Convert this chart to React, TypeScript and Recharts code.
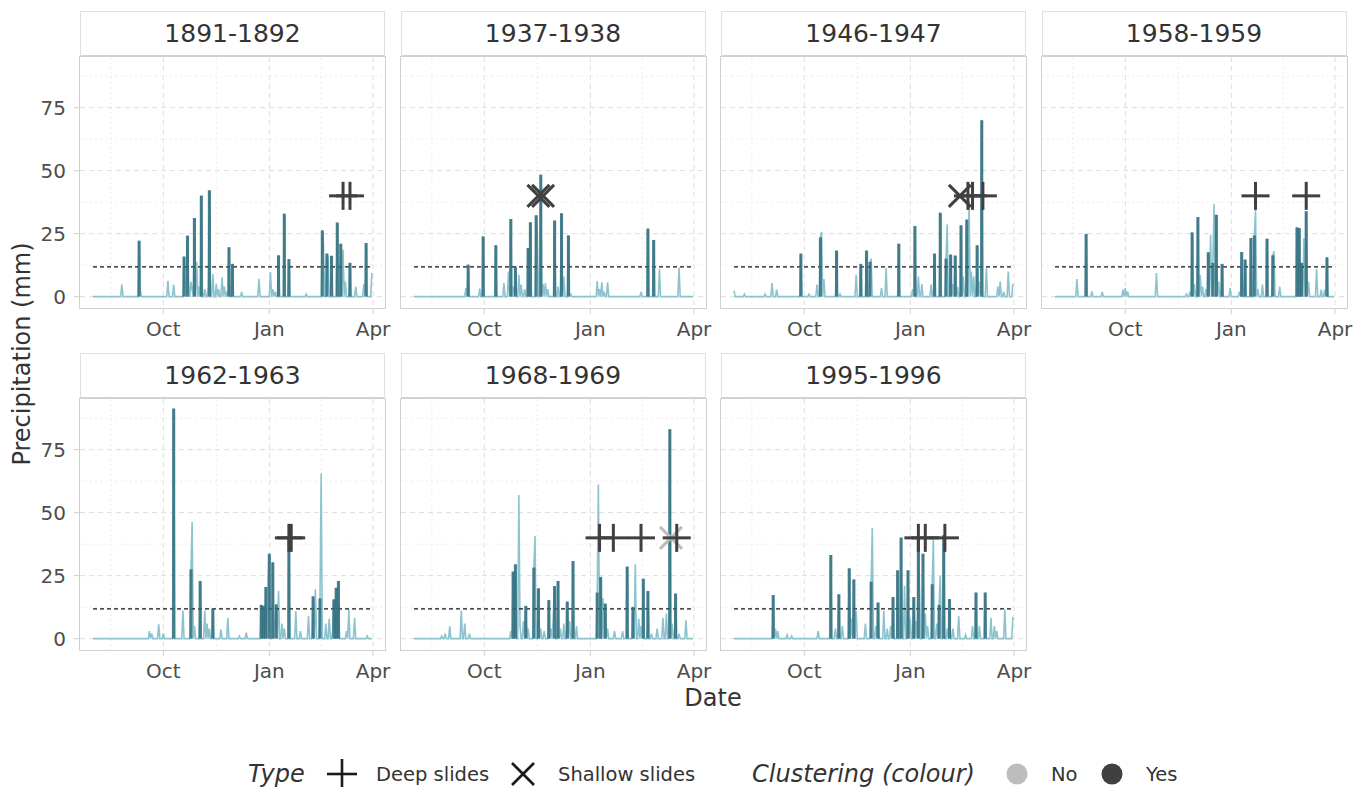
import React from 'react';
import { ComposedChart, Line, Bar, Scatter, XAxis, YAxis, CartesianGrid, ReferenceLine } from 'recharts';

const FONT = '"DejaVu Sans", Verdana, sans-serif';

// ---- axis settings (days counted from 1 August; last day = 31 March) ----
const FIRST_DAY = 0;
const LAST_DAY = 242;
const monthTicks = [61, 153, 243];
const monthLabels = ['Oct', 'Jan', 'Apr'];
const minorXTicks = [15.5, 107, 198];
const majorYTicks = [0, 25, 50, 75];
const minorYTicks = [12.5, 37.5, 62.5, 87.5];
const THRESHOLD = 11.8;
const SLIDE_Y = 40;

// ---- panel data: [day, mm] ----
const rain1891: [number, number][] = [[25,4.8],[41,2.8],[65,6.3],[70,4.8],[80,3],[83,4.8],[85,6],[86,3],[90,13.8],[92,4],[97,3],[100,4],[104,9],[107,5],[109,3],[112,7.7],[114,4],[116,2],[129,1.9],[144,7.1],[154,9.8],[156,3],[158,2],[185,1],[200,21],[204,15],[217,18.7],[219,6],[228,4],[235,5],[242,9.4]];
const bars1891: [number, number][] = [[40,22.2],[79,15.9],[82,24.2],[88,31.2],[94,40.1],[101,42.2],[118,19.6],[121,13],[161,16.4],[166,32.9],[170,14.9],[199,26.3],[203,17.1],[207,16.2],[212,29.4],[215,21],[223,13.4],[237,21.3]];
const slides1891 = [{ day: 217, type: 'deep', clustered: true }, { day: 223, type: 'deep', clustered: true }];

const rain1937: [number, number][] = [[45,3.4],[57,3.2],[78,5.4],[82,10],[86,4],[91,8.7],[93,4.8],[96,3],[107,26],[112,5],[114,5.4],[116,3],[125,4],[130,8],[136,1],[159,6.1],[161,3],[163,5.7],[165,2],[168,5.7],[197,1.9],[213,11],[230,11.6]];
const bars1937: [number, number][] = [[47,12.7],[60,23.9],[71,20.4],[84,30.8],[88,11.9],[99,19.3],[101,29.5],[106,32.3],[110,48.4],[122,30.2],[128,33.1],[134,24.3],[203,27],[208,22.5]];
const slides1937 = [{ day: 108, type: 'shallow', clustered: true }, { day: 112, type: 'shallow', clustered: true }];

const rain1946: [number, number][] = [[0,2.4],[9,1],[27,1],[33,5.4],[37,2.8],[65,1],[72,4.8],[76,25.7],[78,7],[92,1],[106,8.7],[119,15],[128,3.4],[132,11.4],[155,3],[160,8],[163,5],[171,4.8],[185,28.6],[190,5],[194,4],[199,8],[204,37.8],[206,10],[208,8],[213,6],[219,11.4],[229,4],[231,6],[234,2],[238,10],[242,5]];
const bars1946: [number, number][] = [[58,17.1],[75,23.5],[89,18.3],[110,13],[115,18.3],[118,13.8],[143,21],[157,28],[174,17.1],[179,33.3],[184,15.1],[188,16.7],[192,16.3],[197,28.3],[202,30.6],[211,20.4],[215,70]];
const slides1946 = [{ day: 196, type: 'shallow', clustered: true }, { day: 203, type: 'deep', clustered: true }, { day: 207, type: 'deep', clustered: true }, { day: 216, type: 'deep', clustered: true }];

const rain1958: [number, number][] = [[19,7],[32,2.1],[41,1.9],[59,2.8],[61,3.4],[63,2],[88,9.4],[114,1],[117,2],[121,5],[126,8.7],[128,4],[131,3],[135,24.6],[138,36.8],[142,6],[152,3.4],[160,2],[174,34.5],[176,3],[180,4.8],[190,18],[195,4],[216,23.3],[220,6],[227,11],[231,2.8],[234,2.8]];
const bars1958: [number, number][] = [[27,24.9],[119,25.5],[124,31.6],[133,17.6],[137,13.4],[140,32.5],[145,13],[162,17.7],[165,14.7],[170,23.3],[173,24.3],[184,23],[189,16.4],[210,27.5],[212,27.2],[214,13.4],[218,33.9],[236,15.6]];
const slides1958 = [{ day: 174, type: 'deep', clustered: true }, { day: 218, type: 'deep', clustered: true }];

const rain1962: [number, number][] = [[49,3],[51,2],[57,5.7],[61,2],[78,11.2],[86,46.3],[88,5],[97,11.2],[99,6],[101,4],[111,3.7],[117,8.3],[127,1],[133,2.4],[152,24],[158,4],[161,19],[164,6],[166,4],[176,11],[180,3],[187,9],[193,19.6],[198,65.6],[202,6],[205,8],[208,3],[220,3],[222,11.6],[227,8.3],[238,1]];
const bars1962: [number, number][] = [[70,91.3],[85,27.5],[93,22.9],[104,12],[146,13.4],[148,13],[150,20.5],[153,33.7],[156,30.3],[159,13.6],[170,40],[191,16.8],[197,16],[209,15.6],[211,20.2],[213,22.9]];
const slides1962 = [{ day: 170, type: 'deep', clustered: true }, { day: 172, type: 'deep', clustered: true }];

const rain1968: [number, number][] = [[24,1],[27,2],[31,4.9],[41,11.2],[44,6],[48,2],[84,3],[91,57],[92,5],[95,7],[99,4],[105,40.7],[110,4],[113,3],[119,4],[121,11],[127,4],[130,6],[135,7],[141,5],[160,61.2],[164,16],[168,4],[174,3],[181,3],[192,29.5],[195,8],[197,5],[206,2],[211,4],[216,8.3],[219,10],[224,6],[230,2],[236,7.3]];
const bars1968: [number, number][] = [[86,26.6],[88,29.5],[97,13],[104,28.2],[108,20],[117,15.3],[122,20.9],[125,22.9],[133,14.7],[138,30.8],[159,18.3],[162,24.5],[166,13.9],[185,28.6],[190,12.6],[199,23.8],[203,18.9],[222,83.1],[227,17.9]];
const slides1968 = [{ day: 161, type: 'deep', clustered: true }, { day: 173, type: 'deep', clustered: true }, { day: 197, type: 'deep', clustered: true }, { day: 223, type: 'shallow', clustered: false }, { day: 228, type: 'deep', clustered: true }];

const rain1995: [number, number][] = [[36,4],[38,3],[46,1.5],[50,1],[73,3],[88,4],[94,5],[102,8],[106,11],[114,6],[120,44],[123,5],[130,11],[133,4],[136,5],[148,21],[153,8],[158,7],[161,20.2],[166,10],[168,5],[173,39.2],[176,6],[179,24.9],[185,4],[190,4],[195,9],[201,1.5],[207,5],[213,5],[223,8.3],[226,5],[228,3],[235,11.6],[242,8.6]];
const bars1995: [number, number][] = [[34,17.3],[84,33.2],[91,17.6],[100,27.9],[104,23.5],[119,22.6],[125,14.3],[138,16.5],[142,27.1],[145,40.1],[151,27.1],[156,16.5],[160,40.1],[164,33.7],[172,21.6],[178,13.4],[182,41.1],[187,15.7],[210,18.3],[218,18.3]];
const slides1995 = [{ day: 160, type: 'deep', clustered: true }, { day: 166, type: 'deep', clustered: true }, { day: 183, type: 'deep', clustered: true }];

const seasons = ['1891-1892', '1937-1938', '1946-1947', '1958-1959', '1962-1963', '1968-1969', '1995-1996'];
const rainSeries = [rain1891, rain1937, rain1946, rain1958, rain1962, rain1968, rain1995];
const barSeries = [bars1891, bars1937, bars1946, bars1958, bars1962, bars1968, bars1995];
const slideSeries = [slides1891, slides1937, slides1946, slides1958, slides1962, slides1968, slides1995];

// ---- layout ----
const PANEL_W = 305;
const PLOT_H = 251;
const COL_LEFT = [80, 400.5, 721, 1041.5];
const ROW_TOP = [57, 399];
const X_DOMAIN: [number, number] = [-11.3, 253.4];
const Y_DOMAIN: [number, number] = [-4.5, 95.1];

const LIGHT = '#8cc3cf';
const DARK = '#326e7e';
const BAR_W = 3.1;

function buildRows(rain: [number, number][], bars: [number, number][]) {
  const r = new Map(rain);
  const b = new Map(bars);
  const rows: { day: number; rain: number; bar: number | null }[] = [];
  for (let d = FIRST_DAY; d <= LAST_DAY; d++) {
    const bv = b.has(d) ? (b.get(d) as number) : null;
    rows.push({ day: d, rain: bv !== null ? bv : r.has(d) ? (r.get(d) as number) : 0, bar: bv });
  }
  return rows;
}

const BarShape = (props: any) => {
  const { x, y, width, height } = props;
  if (x == null || y == null || !height) return null;
  const cx = x + width / 2;
  const top = height >= 0 ? y : y + height;
  return <rect x={cx - BAR_W / 2} y={top} width={BAR_W} height={Math.abs(height)} fill={DARK} fillOpacity={0.86} />;
};

const SlideMark = (props: any) => {
  const { cx, cy, payload } = props;
  if (cx == null || cy == null) return null;
  const c = payload.clustered ? '#404040' : '#bdbdbd';
  if (payload.type === 'deep') {
    const h = 14;
    return (
      <g stroke={c} strokeWidth={3}>
        <line x1={cx - h} y1={cy} x2={cx + h} y2={cy} />
        <line x1={cx} y1={cy - h} x2={cx} y2={cy + h} />
      </g>
    );
  }
  const h = 11;
  return (
    <g stroke={c} strokeWidth={3}>
      <line x1={cx - h} y1={cy - h} x2={cx + h} y2={cy + h} />
      <line x1={cx - h} y1={cy + h} x2={cx + h} y2={cy - h} />
    </g>
  );
};

const tickStyle = { fontFamily: FONT, fontSize: 20, fill: '#4d4d4d' };

const Panel = ({ idx }: { idx: number }) => {
  const col = idx % 4;
  const row = Math.floor(idx / 4);
  const plotLeft = COL_LEFT[col];
  const plotTop = ROW_TOP[row];
  const yW = col === 0 ? 80 : 0;
  const rows = buildRows(rainSeries[idx], barSeries[idx]);
  const marks = slideSeries[idx].map((s) => ({ day: s.day, y: SLIDE_Y, type: s.type, clustered: s.clustered }));
  return (
    <>
      <div
        style={{
          position: 'absolute', left: plotLeft, top: plotTop - 46, width: PANEL_W, height: 46,
          boxSizing: 'border-box', border: '1px solid #e0e0e0', borderBottom: '2px solid #d2d2d2',
          background: '#fff', display: 'flex', alignItems: 'center', justifyContent: 'center',
          fontFamily: FONT, fontSize: 25, color: '#333',
        }}
      >
        {seasons[idx]}
      </div>
      <div style={{ position: 'absolute', left: plotLeft - yW, top: plotTop }}>
        <ComposedChart
          width={yW + PANEL_W + 14}
          height={PLOT_H + 40}
          data={rows}
          margin={{ top: 0, right: 14, bottom: 0, left: 0 }}
        >
          <CartesianGrid
            horizontalValues={minorYTicks}
            verticalValues={minorXTicks}
            stroke="#ececec"
            strokeDasharray="2 3"
          />
          <CartesianGrid
            horizontalValues={majorYTicks}
            verticalValues={monthTicks}
            stroke="#dedede"
            strokeDasharray="5 4"
          />
          <XAxis
            dataKey="day"
            type="number"
            domain={X_DOMAIN}
            allowDataOverflow
            ticks={monthTicks}
            interval={0}
            tickFormatter={(v: number) => monthLabels[monthTicks.indexOf(v)]}
            axisLine={false}
            tickLine={{ stroke: '#cfcfcf' }}
            tickSize={6}
            tickMargin={8}
            height={40}
            tick={tickStyle}
          />
          <YAxis
            type="number"
            domain={Y_DOMAIN}
            allowDataOverflow
            ticks={majorYTicks}
            interval={0}
            hide={col !== 0}
            width={80}
            axisLine={false}
            tickLine={{ stroke: '#cfcfcf' }}
            tickSize={6}
            tickMargin={8}
            tick={tickStyle}
          />
          <Line
            dataKey="rain"
            type="linear"
            stroke={LIGHT}
            strokeWidth={1.6}
            dot={false}
            activeDot={false}
            isAnimationActive={false}
          />
          <Bar dataKey="bar" fill={DARK} shape={BarShape} isAnimationActive={false} zIndex={450} />
          <ReferenceLine
            segment={[{ x: FIRST_DAY, y: THRESHOLD }, { x: LAST_DAY, y: THRESHOLD }]}
            stroke="#111"
            strokeWidth={1.2}
            strokeDasharray="4 3"
          />
          <Scatter data={marks} dataKey="y" shape={SlideMark} isAnimationActive={false} />
        </ComposedChart>
      </div>
      <div
        style={{
          position: 'absolute', left: plotLeft - 1, top: plotTop - 1, width: PANEL_W + 2, height: PLOT_H + 2,
          boxSizing: 'border-box', border: '1px solid #d0d0d0', pointerEvents: 'none',
        }}
      />
    </>
  );
};

const Legend = () => (
  <svg width={1354} height={787} style={{ position: 'absolute', left: 0, top: 0 }}>
    <text x={30} y={354} transform="rotate(-90 30 354)" textAnchor="middle" fontFamily={FONT} fontSize={24} fill="#333">
      Precipitation (mm)
    </text>
    <text x={713} y={706} textAnchor="middle" fontFamily={FONT} fontSize={24} fill="#333">Date</text>
    <text x={248} y={782} fontFamily={FONT} fontSize={24} fontStyle="italic" fill="#333">Type</text>
    <g stroke="#1a1a1a" strokeWidth={2.6}>
      <line x1={327} y1={774} x2={357} y2={774} />
      <line x1={342} y1={759} x2={342} y2={789} />
      <line x1={512} y1={763} x2={534} y2={785} />
      <line x1={512} y1={785} x2={534} y2={763} />
    </g>
    <text x={376} y={781} fontFamily={FONT} fontSize={19.5} fill="#333">Deep slides</text>
    <text x={558} y={781} fontFamily={FONT} fontSize={19.5} fill="#333">Shallow slides</text>
    <text x={752} y={782} fontFamily={FONT} fontSize={24} fontStyle="italic" fill="#333">Clustering (colour)</text>
    <circle cx={1017} cy={774} r={10.5} fill="#bdbdbd" />
    <text x={1051} y={781} fontFamily={FONT} fontSize={19.5} fill="#333">No</text>
    <circle cx={1112} cy={774} r={10.5} fill="#404040" />
    <text x={1146} y={781} fontFamily={FONT} fontSize={19.5} fill="#333">Yes</text>
  </svg>
);

export default function App() {
  return (
    <div style={{ position: 'absolute', left: 0, top: 0, width: 1354, height: 787, background: '#fff', overflow: 'hidden' }}>
      <Legend />
      {seasons.map((s, i) => (
        <Panel key={s} idx={i} />
      ))}
    </div>
  );
}
